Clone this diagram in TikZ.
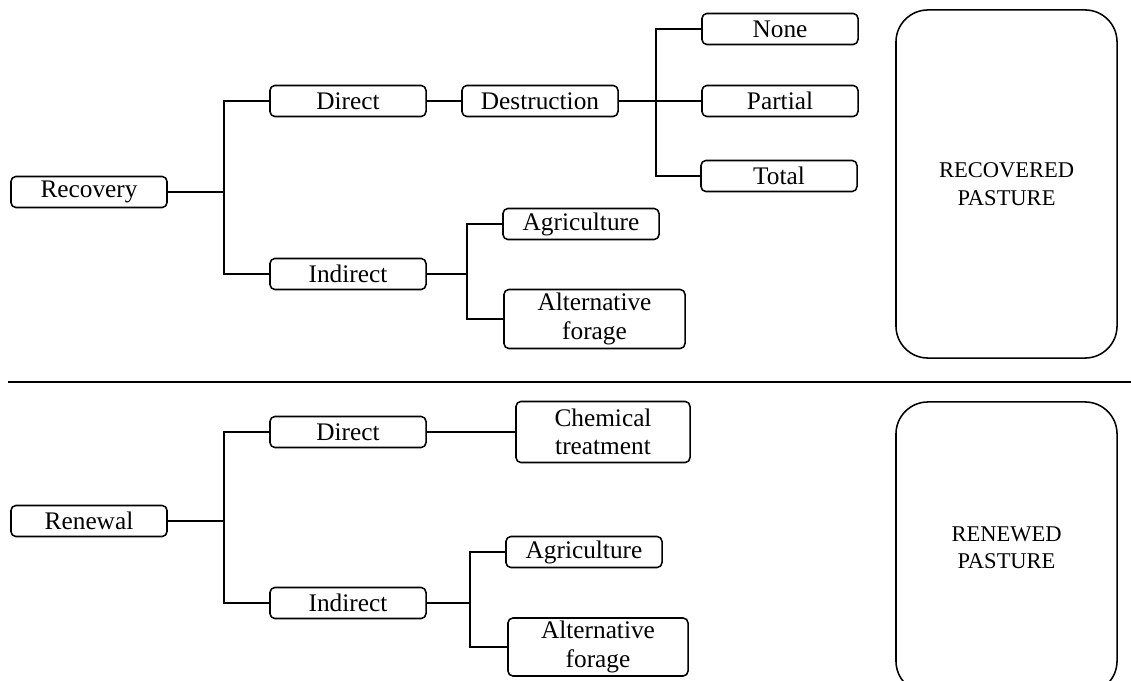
\documentclass[tikz,border=0pt]{standalone}
\usepackage{fontspec}
\setmainfont{Liberation Serif}
\begin{document}
\begin{tikzpicture}[
			x=0.025cm, y=-0.025cm,
			box/.style={draw,rounded corners=3.5pt,line width=1.1pt,minimum width=3.9cm,minimum height=0.775cm,font=\fontsize{18}{20}\selectfont},
			tallbox/.style={box,align=center},
			pasture/.style={draw,rounded corners=0.8cm,line width=1.1pt,minimum width=5.525cm,align=center,font=\fontsize{16}{19.5}\selectfont},
			link/.style={line width=1.1pt},
			inner sep=0pt]
			\useasboundingbox (0,0) rectangle (1131,681);
			\clip (0,0) rectangle (1131,681);
			% recovery
			\node [box] 		(rec) 		at (89,192)			{Recovery};
			\node [box] 		(rdir) 		at (348,101)		{Direct};
			\node [box] 		(rind) 		at (348,274)		{Indirect};
			\node [box] 		(dest) 		at (540,101)		{Destruction};
			\node [box] 		(none) 		at (780,29)			{None};
			\node [box] 		(part) 		at (780,101)		{Partial};
			\node [box] 		(tot) 		at (779,176)		{Total};
			\node [box] 		(ragr) 		at (581,224)		{Agriculture};
			\node [tallbox,minimum width=4.525cm,minimum height=1.475cm] (ralt) at (594.5,319) {Alternative\\forage};
			\node [pasture,minimum height=8.7cm] (recp) at (1006.5,184) {RECOVERED\\PASTURE};
			\coordinate (rJ) at (224,192);
			\coordinate (dJ) at (656,101);
			\coordinate (iJ) at (467,274);
			\draw [link] (rec) -- (rJ);
			\draw [link] (rdir) -| (rJ) |- (rind);
			\draw [link] (rdir) -- (dest);
			\draw [link] (dest) -- (part);
			\draw [link] (none) -| (dJ) |- (tot);
			\draw [link] (rind) -- (iJ);
			\draw [link] (ragr) -| (iJ) |- (ralt);
			% separator
			\coordinate (sepL) at (8,382);
			\coordinate (sepR) at (1131,382);
			\draw [link] (sepL) -- (sepR);
			% renewal
			\node [box] 		(ren) 		at (89,521)			{Renewal};
			\node [box] 		(ndir) 		at (348,432)		{Direct};
			\node [box] 		(nind) 		at (348,603)		{Indirect};
			\node [tallbox,minimum width=4.35cm,minimum height=1.525cm] (chem) at (603,432) {Chemical\\treatment};
			\node [box] 		(nagr) 		at (584,552)		{Agriculture};
			\node [tallbox,minimum width=4.5cm,minimum height=1.45cm] (nalt) at (598,647) {Alternative\\forage};
			\node [pasture,minimum height=7.275cm] (renp) at (1006.5,547.5) {RENEWED\\PASTURE};
			\coordinate (nJ) at (224,521);
			\coordinate (aJ) at (470,603);
			\draw [link] (ren) -- (nJ);
			\draw [link] (ndir) -| (nJ) |- (nind);
			\draw [link] (ndir) -- (chem);
			\draw [link] (nind) -- (aJ);
			\draw [link] (nagr) -| (aJ) |- (nalt);
\end{tikzpicture}
\end{document}
